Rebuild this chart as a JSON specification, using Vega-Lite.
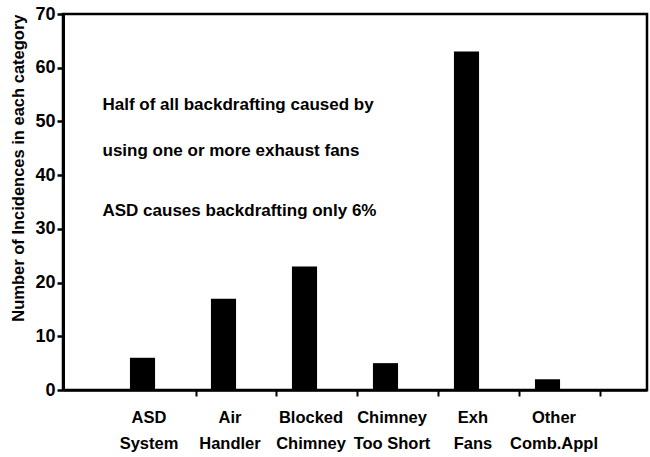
{
  "$schema": "https://vega.github.io/schema/vega-lite/v6.json",
  "width": 584,
  "height": 376,
  "autosize": "none",
  "padding": {"left": 63, "top": 14, "right": 3, "bottom": 67},
  "background": "white",
  "config": {
    "view": {"stroke": "black", "strokeWidth": 2.5},
    "font": "Liberation Sans"
  },
  "datasets": {
    "bars": [
      {"cause": "ASD System", "count": 6},
      {"cause": "Air Handler", "count": 17},
      {"cause": "Blocked Chimney", "count": 23},
      {"cause": "Chimney Too Short", "count": 5},
      {"cause": "Exh Fans", "count": 63},
      {"cause": "Other Comb.Appl", "count": 2}
    ],
    "notes": [
      {"cause": "ASD System", "value": 52.1, "note": "Half of all backdrafting caused by"},
      {"cause": "ASD System", "value": 43.6, "note": "using one or more exhaust fans"},
      {"cause": "ASD System", "value": 32.4, "note": "ASD causes backdrafting only 6%"}
    ]
  },
  "layer": [
    {
      "data": {"name": "bars"},
      "mark": {"type": "bar", "color": "black"},
      "encoding": {
        "x": {
          "field": "cause",
          "type": "nominal",
          "sort": null,
          "scale": {"paddingInner": 0.69, "paddingOuter": 0.95, "align": 0.435},
          "axis": {
            "title": null,
            "labelAngle": 0,
            "labelExpr": "[substring(datum.value, 0, indexof(datum.value, ' ')), substring(datum.value, indexof(datum.value, ' ') + 1)]",
            "labelFont": "Liberation Sans",
            "labelFontSize": 16.5,
            "labelFontWeight": "bold",
            "labelColor": "black",
            "labelLineHeight": 26,
            "labelPadding": 13,
            "tickOffset": 53,
            "labelOffset": -47,
            "tickColor": "black",
            "tickWidth": 2,
            "tickSize": 6,
            "domainColor": "black",
            "domainWidth": 2.5
          }
        },
        "y": {
          "field": "count",
          "type": "quantitative",
          "scale": {"domain": [0, 70], "nice": false},
          "axis": {
            "title": "Number of Incidences in each category",
            "titleFont": "Liberation Sans",
            "titleFontSize": 16.5,
            "titleFontWeight": "bold",
            "titleColor": "black",
            "titlePadding": 8,
            "titleAnchor": "end",
            "values": [0, 10, 20, 30, 40, 50, 60, 70],
            "grid": false,
            "labelFont": "Liberation Sans",
            "labelFontSize": 18,
            "labelFontWeight": "bold",
            "labelColor": "black",
            "labelPadding": 2,
            "tickColor": "black",
            "tickWidth": 2.5,
            "tickSize": 6,
            "domainColor": "black",
            "domainWidth": 3
          }
        }
      }
    },
    {
      "data": {"name": "notes"},
      "mark": {"type": "text", "align": "left", "baseline": "alphabetic", "dx": -40, "font": "Liberation Sans", "fontSize": 17, "fontWeight": "bold", "color": "black"},
      "encoding": {
        "x": {"field": "cause", "type": "nominal", "sort": null},
        "y": {"field": "value", "type": "quantitative"},
        "text": {"field": "note"}
      }
    }
  ]
}
